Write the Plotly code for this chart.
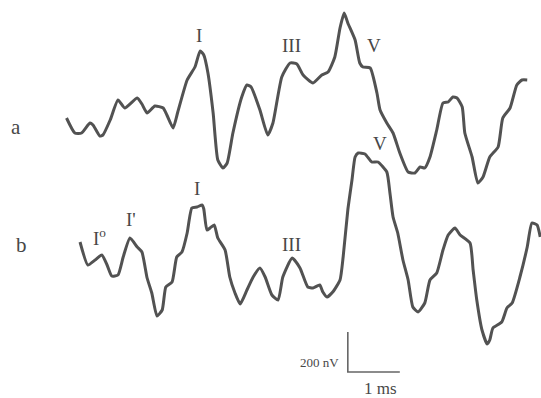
import plotly.graph_objects as go

# Evoked response waveforms: time in ms, amplitude in nV
time_a = [0.01, 0.17, 0.30, 0.46, 0.52, 0.65, 0.71, 0.85, 1.00, 1.13, 1.37, 1.46, 1.56, 1.71,
          1.87, 1.94, 2.06, 2.15, 2.33, 2.48, 2.58, 2.65, 2.73, 2.83, 2.92, 3.02, 3.10, 3.21,
          3.38, 3.48, 3.56, 3.73, 3.88, 3.98, 4.15, 4.31, 4.44, 4.56, 4.75, 4.92, 5.04, 5.17,
          5.27, 5.35, 5.42, 5.56, 5.65, 5.71, 5.85, 5.98, 6.04, 6.17, 6.29, 6.42, 6.58, 6.71,
          6.81, 6.90, 7.00, 7.13, 7.25, 7.35, 7.44, 7.52, 7.62, 7.67, 7.81, 7.92, 8.02, 8.15,
          8.31, 8.40, 8.54, 8.67, 8.77, 8.87]
amp_a = [10, -65, -65, -15, -25, -80, -75, 0, 100, 60, 110, 80, 35, 70,
         60, 25, -40, 40, 200, 265, 345, 325, 235, 35, -200, -240, -215, -65,
         115, 175, 165, 50, -75, -15, 215, 285, 280, 225, 185, 225, 240, 315,
         460, 535, 485, 400, 285, 265, 260, 135, 50, -15, -65, -165, -260, -265,
         -235, -240, -185, -50, 85, 90, 115, 110, 65, -65, -185, -315, -285, -185,
         -135, 10, 60, 175, 200, 200]

time_b = [0.27, 0.42, 0.56, 0.69, 0.79, 0.88, 1.00, 1.10, 1.23, 1.37, 1.46, 1.56, 1.65, 1.75,
          1.85, 1.92, 2.04, 2.13, 2.23, 2.33, 2.42, 2.52, 2.62, 2.65, 2.71, 2.77, 2.85, 2.92,
          3.06, 3.15, 3.25, 3.35, 3.48, 3.60, 3.73, 3.83, 3.96, 4.08, 4.17, 4.35, 4.50, 4.65,
          4.75, 4.88, 4.94, 5.02, 5.13, 5.27, 5.33, 5.42, 5.50, 5.56, 5.62, 5.75, 5.88, 6.00,
          6.17, 6.23, 6.29, 6.38, 6.48, 6.58, 6.67, 6.77, 6.90, 7.00, 7.13, 7.25, 7.35, 7.48,
          7.58, 7.77, 7.83, 7.90, 8.00, 8.10, 8.15, 8.21, 8.38, 8.48, 8.58, 8.73, 8.87, 8.96,
          9.06, 9.12]
amp_b = [90, -25, 0, 25, -25, -80, -75, 15, 110, 65, 40, -90, -165, -280,
         -250, -135, -110, 15, 40, 135, 260, 265, 275, 255, 150, 160, 175, 110,
         50, -85, -165, -220, -150, -85, -40, -85, -175, -200, -85, 10, -40, -135,
         -140, -125, -160, -185, -160, -100, 15, 250, 400, 515, 535, 530, 490, 490,
         440, 335, 215, 135, 0, -100, -235, -260, -215, -100, -65, 50, 125, 160,
         125, 85, -50, -200, -350, -420, -400, -340, -310, -240, -215, -85, 65, 185,
         175, 115]

# Vertical offsets that stack the two traces
offset_a = 400
offset_b = -300

# Peak labels: (text, time ms, amplitude nV relative to trace)
peaks_a = [("I", 2.56, 425), ("III", 4.33, 375), ("V", 5.92, 375)]
peaks_b = [("I<sup>o</sup>", 0.65, 115), ("I'", 1.25, 205), ("I", 2.52, 360),
           ("III", 4.33, 80), ("V", 6.04, 585)]

# Calibration bar
bar_time = 1.0      # ms
bar_amp = 200       # nV
bar_origin = (5.42, -860)

ink = "#525252"
text_ink = "#474747"
font_family = "Liberation Serif, Times New Roman, serif"

fig = go.Figure()
fig.add_trace(go.Scatter(x=time_a, y=[v + offset_a for v in amp_a], mode="lines",
                         line=dict(color=ink, width=3, shape="spline", smoothing=0.5),
                         hoverinfo="skip"))
fig.add_trace(go.Scatter(x=time_b, y=[v + offset_b for v in amp_b], mode="lines",
                         line=dict(color=ink, width=3, shape="spline", smoothing=0.5),
                         hoverinfo="skip"))

# Scale bar as an L shape
bx, by = bar_origin
fig.add_trace(go.Scatter(x=[bx, bx, bx + bar_time], y=[by + bar_amp, by, by], mode="lines",
                         line=dict(color="#666666", width=1.6), hoverinfo="skip"))

annotations = []
for text, t, a in peaks_a:
    annotations.append(dict(x=t, y=a + offset_a, text=text, showarrow=False,
                            font=dict(family=font_family, size=19, color=text_ink)))
for text, t, a in peaks_b:
    annotations.append(dict(x=t, y=a + offset_b, text=text, showarrow=False,
                            font=dict(family=font_family, size=19, color=text_ink)))

annotations.append(dict(x=-0.96, y=offset_a - 35, text="a", showarrow=False,
                        font=dict(family=font_family, size=21, color=text_ink)))
annotations.append(dict(x=-0.85, y=offset_b + 75, text="b", showarrow=False,
                        font=dict(family=font_family, size=21, color=text_ink)))
annotations.append(dict(x=bx - 0.14, y=by + 50, text=f"{bar_amp} nV", showarrow=False,
                        xanchor="right",
                        font=dict(family=font_family, size=13, color=text_ink)))
annotations.append(dict(x=bx + bar_time * 0.62, y=by - 80, text=f"{bar_time:g} ms",
                        showarrow=False,
                        font=dict(family=font_family, size=17, color=text_ink)))

fig.update_layout(
    width=541, height=398,
    margin=dict(l=0, r=0, t=0, b=0),
    paper_bgcolor="white", plot_bgcolor="white",
    showlegend=False,
    annotations=annotations,
    xaxis=dict(range=[-1.269, 9.135], visible=False, fixedrange=True),
    yaxis=dict(range=[-990, 1000], visible=False, fixedrange=True),
)

fig.write_html("out.html")
